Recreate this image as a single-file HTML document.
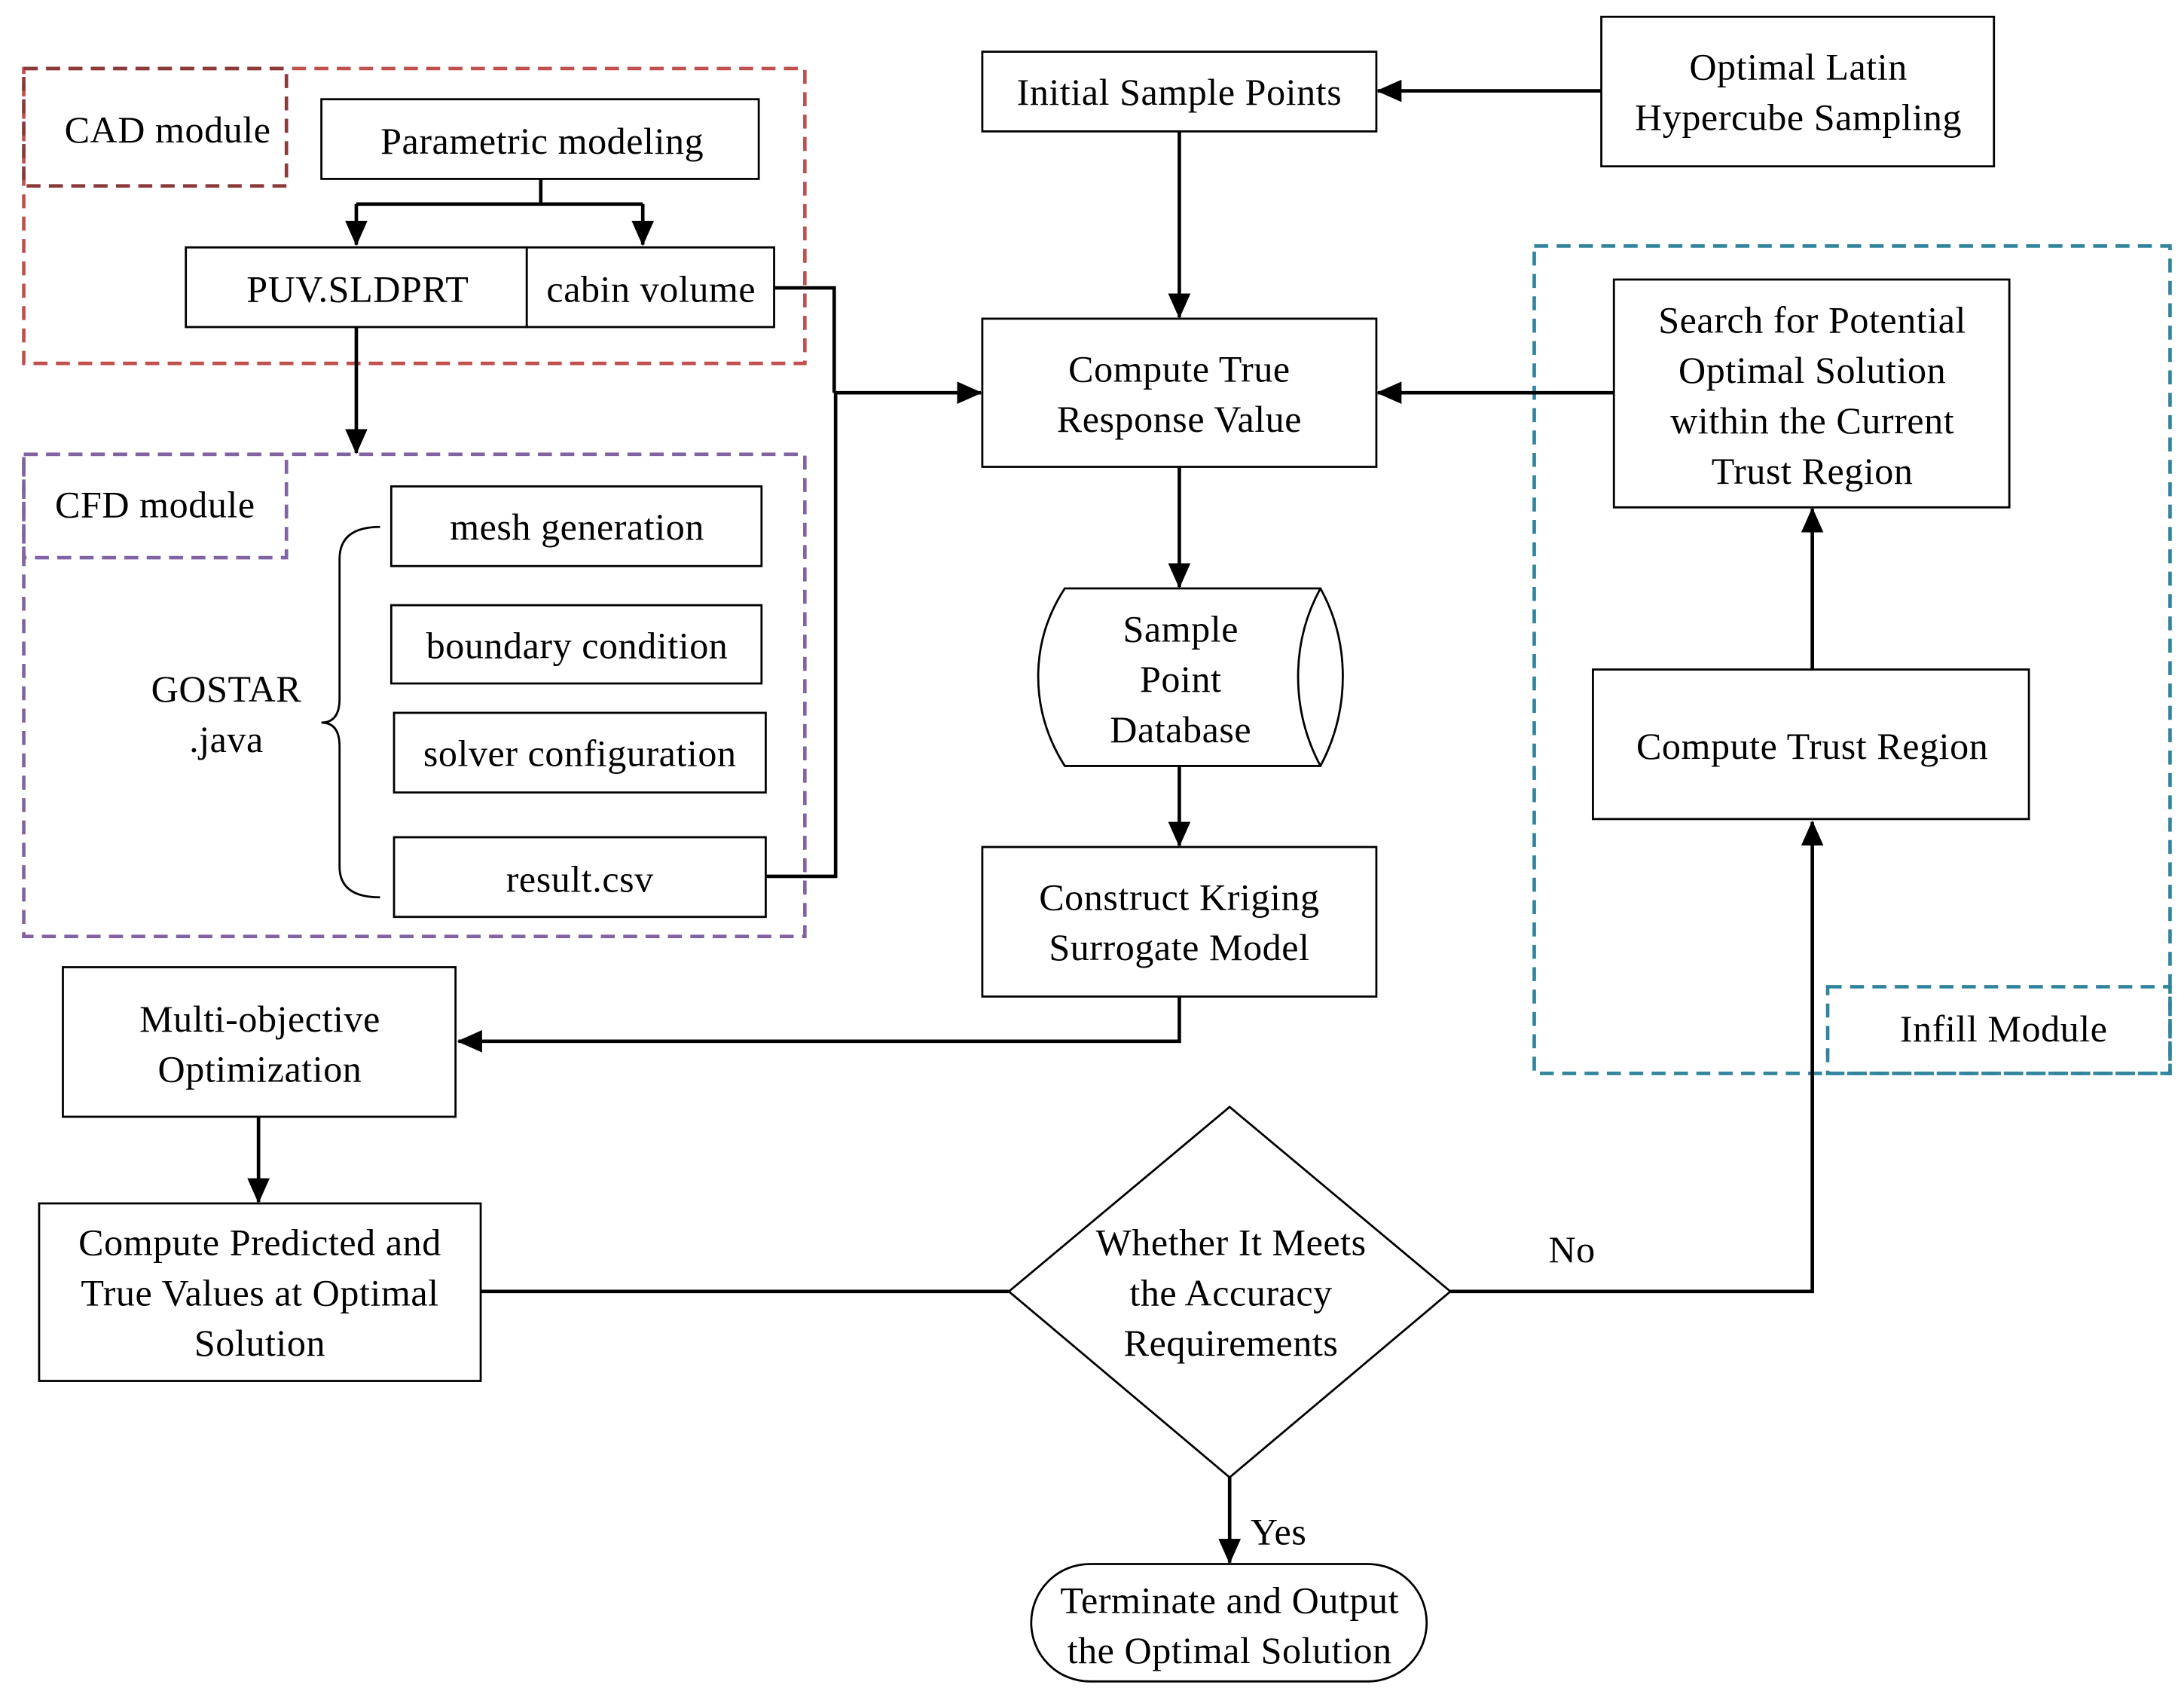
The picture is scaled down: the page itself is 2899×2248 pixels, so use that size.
<!DOCTYPE html>
<html><head><meta charset="utf-8"><style>
html,body{margin:0;padding:0;background:#fff;}
svg{display:block;}
text{font-family:"Liberation Serif","DejaVu Serif",serif;font-size:27px;fill:#000;text-anchor:middle;letter-spacing:0.3px;}
</style></head><body>
<svg width="2899" height="2248" viewBox="0 0 1563 1212" preserveAspectRatio="none" xmlns="http://www.w3.org/2000/svg">
<defs>
<marker id="b" markerWidth="18" markerHeight="18" refX="17" refY="9" orient="auto" markerUnits="userSpaceOnUse" viewBox="0 0 18 18"><path d="M0,1 L18,9 L0,17 z" fill="#000"/></marker></defs>
<g fill="none" stroke-width="2.5" stroke-dasharray="10,6">
<rect x="17" y="49" width="559" height="211" stroke="#c0504d"/>
<rect x="17" y="49" width="188" height="84" stroke="#8b3a3a"/>
<rect x="17" y="325" width="559" height="345" stroke="#8064a2"/>
<rect x="17" y="325" width="188" height="74" stroke="#8064a2"/>
<rect x="1098" y="176" width="455" height="592" stroke="#31849b"/>
<rect x="1308" y="706" width="245" height="62" stroke="#31849b"/>
</g>
<g fill="#fff" stroke="#000" stroke-width="1.5">
<rect x="230" y="71" width="313" height="57"/>
<rect x="133" y="177" width="244" height="57"/>
<rect x="377" y="177" width="177" height="57"/>
<rect x="280" y="348" width="265" height="57"/>
<rect x="280" y="433" width="265" height="56"/>
<rect x="282" y="510" width="266" height="57"/>
<rect x="282" y="599" width="266" height="57"/>
<rect x="703" y="37" width="282" height="57"/>
<rect x="1146" y="12" width="281" height="107"/>
<rect x="703" y="228" width="282" height="106"/>
<rect x="703" y="606" width="282" height="107"/>
<rect x="45" y="692" width="281" height="107"/>
<rect x="28" y="861" width="316" height="127"/>
<rect x="1155" y="200" width="283" height="163"/>
<rect x="1140" y="479" width="312" height="107"/>
<rect x="738" y="1119" width="283" height="84" rx="42"/>
<path d="M880,792 L1038,924 L880,1057 L722,924 Z"/>
<path d="M762,421 L945,421 Q961,450 961,484 Q961,518 945,548 L762,548 Q743,518 743,484 Q743,450 762,421 Z"/>
<path d="M945,421 Q929,450 929,484 Q929,518 945,548" fill="none"/>
<path d="M272,377 Q243,377 243,400 L243,500 Q243,517 230,517 Q243,517 243,534 L243,620 Q243,642 272,642" fill="none"/>
</g>
<g fill="none" stroke="#000" stroke-width="2.5">
<path d="M387,128 V146 M255,146 H460"/>
<path d="M255,146 V175" marker-end="url(#b)"/>
<path d="M460,146 V175" marker-end="url(#b)"/>
<path d="M255,234 V324" marker-end="url(#b)"/>
<path d="M554,206 H597 V281 M548,627 H598 V281"/>
<path d="M598,281 H702" marker-end="url(#b)"/>
<path d="M1146,65 H986" marker-end="url(#b)"/>
<path d="M844,94 V227" marker-end="url(#b)"/>
<path d="M1155,281 H986" marker-end="url(#b)"/>
<path d="M844,334 V420" marker-end="url(#b)"/>
<path d="M844,548 V605" marker-end="url(#b)"/>
<path d="M844,713 V745 H328" marker-end="url(#b)"/>
<path d="M185,799 V860" marker-end="url(#b)"/>
<path d="M344,924 H722"/>
<path d="M1038,924 H1297 V588" marker-end="url(#b)"/>
<path d="M1297,479 V364" marker-end="url(#b)"/>
<path d="M880,1057 V1118" marker-end="url(#b)"/>
</g>
<text x="120" y="102">CAD module</text>
<text x="388" y="110">Parametric modeling</text>
<text x="256" y="216">PUV.SLDPRT</text>
<text x="466" y="216">cabin volume</text>
<text x="111" y="370">CFD module</text>
<text x="413" y="386">mesh generation</text>
<text x="413" y="471">boundary condition</text>
<text x="415" y="548">solver configuration</text>
<text x="415" y="638">result.csv</text>
<text x="162" y="502">GOSTAR</text>
<text x="162" y="538">.java</text>
<text x="844" y="75">Initial Sample Points</text>
<text x="1287" y="57">Optimal Latin</text>
<text x="1287" y="93">Hypercube Sampling</text>
<text x="844" y="273">Compute True</text>
<text x="844" y="309">Response Value</text>
<text x="845" y="459">Sample</text>
<text x="845" y="495">Point</text>
<text x="845" y="531">Database</text>
<text x="844" y="651">Construct Kriging</text>
<text x="844" y="687">Surrogate Model</text>
<text x="186" y="738">Multi-objective</text>
<text x="186" y="774">Optimization</text>
<text x="186" y="898">Compute Predicted and</text>
<text x="186" y="934">True Values at Optimal</text>
<text x="186" y="970">Solution</text>
<text x="881" y="898">Whether It Meets</text>
<text x="881" y="934">the Accuracy</text>
<text x="881" y="970">Requirements</text>
<text x="1125" y="903">No</text>
<text x="915" y="1105">Yes</text>
<text x="880" y="1154">Terminate and Output</text>
<text x="880" y="1190">the Optimal Solution</text>
<text x="1297" y="238">Search for Potential</text>
<text x="1297" y="274">Optimal Solution</text>
<text x="1297" y="310">within the Current</text>
<text x="1297" y="346">Trust Region</text>
<text x="1297" y="543">Compute Trust Region</text>
<text x="1434" y="745">Infill Module</text>
</svg>
</body></html>
